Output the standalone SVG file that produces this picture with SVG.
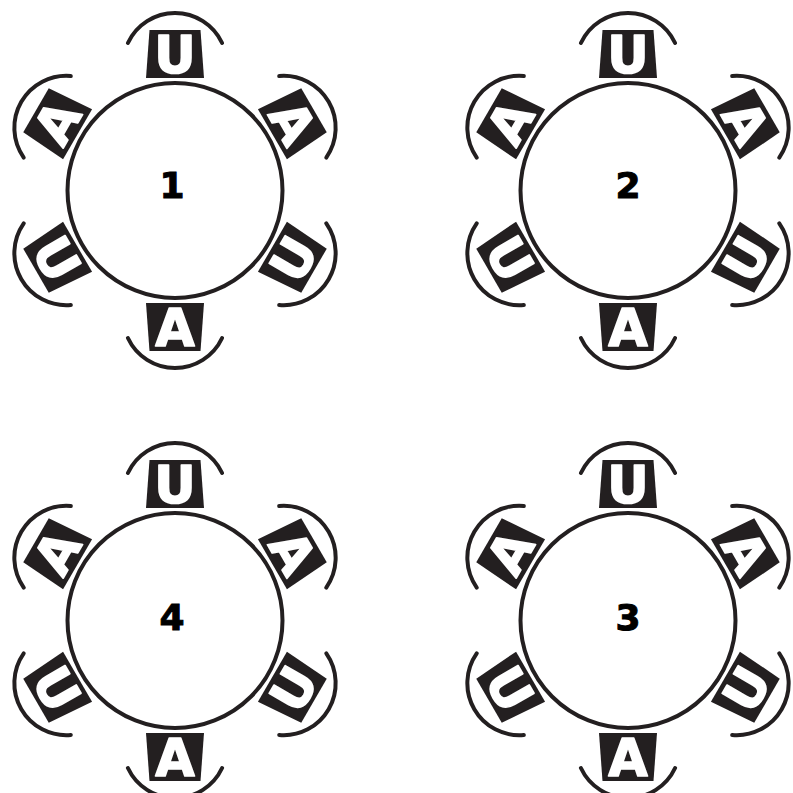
<svg xmlns="http://www.w3.org/2000/svg" xmlns:xlink="http://www.w3.org/1999/xlink" width="793" height="793" viewBox="0 0 793 793">
<style>
.tbl{fill:#fff;stroke:#231f20;stroke-width:4}
.num{font-family:"DejaVu Sans",Verdana,sans-serif;font-weight:bold;font-size:36px;fill:#000;stroke:#000;stroke-width:1;text-anchor:middle}
.chair{fill:#231f20}
.back{fill:none;stroke:#231f20;stroke-width:4;stroke-linecap:round}
.ltr{font-family:"DejaVu Sans",Verdana,sans-serif;font-weight:bold;font-size:51px;fill:#fff;stroke:#fff;stroke-width:1.6;stroke-linejoin:round;text-anchor:middle}
</style>
<defs>
<g id="seatU">
<path class="back" d="M -47.1 -147.5 A 52 52 0 0 1 47.1 -147.5"/>
<path class="chair" d="M -25.5 -160.5 L 25.5 -160.5 L 29 -112.5 L -29 -112.5 Z"/>
<text class="ltr" x="0" y="-118">U</text>
</g>
<g id="seatA">
<path class="back" d="M -47.1 -147.5 A 52 52 0 0 1 47.1 -147.5"/>
<path class="chair" d="M -25.5 -160.5 L 25.5 -160.5 L 29 -112.5 L -29 -112.5 Z"/>
<text class="ltr" x="0" y="-118">A</text>
</g>
<g id="seatUf">
<path class="back" d="M -47.1 -147.5 A 52 52 0 0 1 47.1 -147.5"/>
<path class="chair" d="M -25.5 -160.5 L 25.5 -160.5 L 29 -112.5 L -29 -112.5 Z"/>
<text class="ltr" x="0" y="-118" transform="rotate(180 0 -136.5)">U</text>
</g>
<g id="seatAf">
<path class="back" d="M -47.1 -147.5 A 52 52 0 0 1 47.1 -147.5"/>
<path class="chair" d="M -25.5 -160.5 L 25.5 -160.5 L 29 -112.5 L -29 -112.5 Z"/>
<text class="ltr" x="0" y="-118" transform="rotate(180 0 -136.5)">A</text>
</g>
</defs>

<g id="table-1" transform="translate(175,190.5)">
<circle class="tbl" r="107.5"/>
<text class="num" x="-3" y="7.5">1</text>
<g id="t1-seat-1"><use xlink:href="#seatU"/></g>
<g id="t1-seat-2" transform="rotate(60)"><use xlink:href="#seatA"/></g>
<g id="t1-seat-3" transform="rotate(120)"><use xlink:href="#seatUf"/></g>
<g id="t1-seat-4" transform="rotate(180)"><use xlink:href="#seatAf"/></g>
<g id="t1-seat-5" transform="rotate(240)"><use xlink:href="#seatUf"/></g>
<g id="t1-seat-6" transform="rotate(300)"><use xlink:href="#seatA"/></g>
</g>

<g id="table-2" transform="translate(628,190.5)">
<circle class="tbl" r="107.5"/>
<text class="num" x="0" y="7.5">2</text>
<g id="t2-seat-1"><use xlink:href="#seatU"/></g>
<g id="t2-seat-2" transform="rotate(60)"><use xlink:href="#seatA"/></g>
<g id="t2-seat-3" transform="rotate(120)"><use xlink:href="#seatUf"/></g>
<g id="t2-seat-4" transform="rotate(180)"><use xlink:href="#seatAf"/></g>
<g id="t2-seat-5" transform="rotate(240)"><use xlink:href="#seatUf"/></g>
<g id="t2-seat-6" transform="rotate(300)"><use xlink:href="#seatA"/></g>
</g>

<g id="table-4" transform="translate(175,620.5)">
<circle class="tbl" r="107.5"/>
<text class="num" x="-3" y="9.5">4</text>
<g id="t4-seat-1"><use xlink:href="#seatU"/></g>
<g id="t4-seat-2" transform="rotate(60)"><use xlink:href="#seatA"/></g>
<g id="t4-seat-3" transform="rotate(120)"><use xlink:href="#seatUf"/></g>
<g id="t4-seat-4" transform="rotate(180)"><use xlink:href="#seatAf"/></g>
<g id="t4-seat-5" transform="rotate(240)"><use xlink:href="#seatUf"/></g>
<g id="t4-seat-6" transform="rotate(300)"><use xlink:href="#seatA"/></g>
</g>

<g id="table-3" transform="translate(628,620.5)">
<circle class="tbl" r="107.5"/>
<text class="num" x="0" y="9.5">3</text>
<g id="t3-seat-1"><use xlink:href="#seatU"/></g>
<g id="t3-seat-2" transform="rotate(60)"><use xlink:href="#seatA"/></g>
<g id="t3-seat-3" transform="rotate(120)"><use xlink:href="#seatUf"/></g>
<g id="t3-seat-4" transform="rotate(180)"><use xlink:href="#seatAf"/></g>
<g id="t3-seat-5" transform="rotate(240)"><use xlink:href="#seatUf"/></g>
<g id="t3-seat-6" transform="rotate(300)"><use xlink:href="#seatA"/></g>
</g>
</svg>
